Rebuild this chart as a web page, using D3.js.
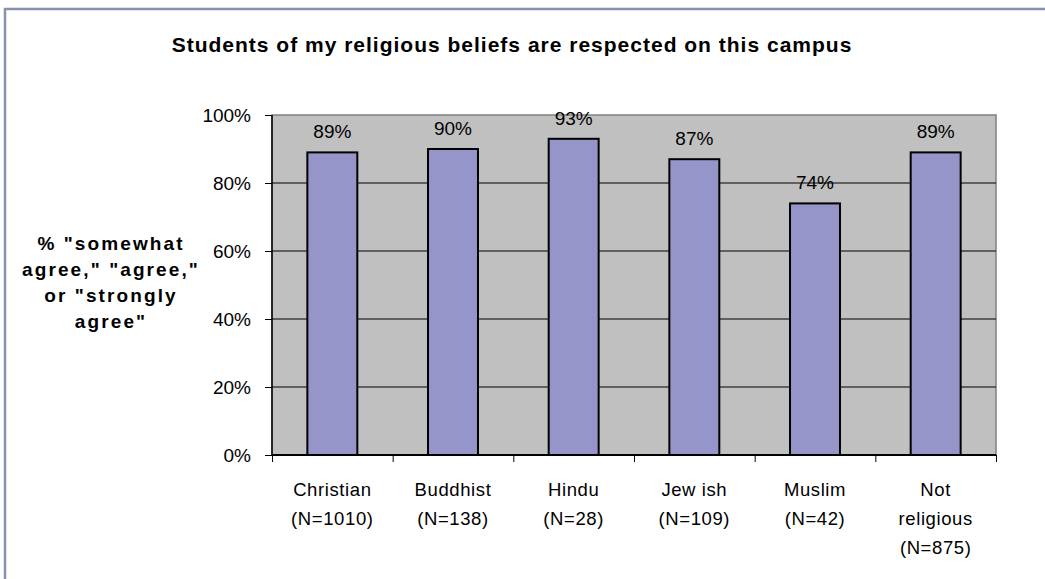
<!DOCTYPE html>
<html>
<head>
<meta charset="utf-8">
<script src="https://cdn.jsdelivr.net/npm/d3@7"></script>
<style>
  body { margin: 0; background: #fff; }
  text { font-family: Arial, "Liberation Sans", sans-serif; }
</style>
</head>
<body>
<script>
// chart data
const categories = ["Christian", "Buddhist", "Hindu", "Jewish", "Muslim", "Not religious"];
const categoryLines = [["Christian", "(N=1010)"], ["Buddhist", "(N=138)"], ["Hindu", "(N=28)"],
                       ["Jew ish", "(N=109)"], ["Muslim", "(N=42)"], ["Not", "religious", "(N=875)"]];
const values = [0.89, 0.90, 0.93, 0.87, 0.74, 0.89];
const yTicks = [0, 0.2, 0.4, 0.6, 0.8, 1.0];
const titleText = "Students of my religious beliefs are respected on this campus";
const yTitleLines = ["% \"somewhat", "agree,\" \"agree,\"", "or \"strongly", "agree\""];

var margin = {top: 115, left: 272},
    width = 724,
    height = 340;

var svg = d3.select("body").append("svg")
  .attr("width", 1045)
  .attr("height", 579);

// outer frame
svg.append("rect")
  .attr("x", 5).attr("y", 9)
  .attr("width", 1060).attr("height", 600)
  .attr("fill", "none")
  .attr("stroke", "#8790b0")
  .attr("stroke-width", 2.5);

svg.append("text")
  .text(titleText)
  .attr("x", 512).attr("y", 52)
  .attr("text-anchor", "middle")
  .attr("font-size", "21px")
  .attr("font-weight", "bold")
  .attr("letter-spacing", "1px")
  .attr("fill", "#000");

var yt = svg.append("text")
  .attr("text-anchor", "middle")
  .attr("font-size", "19px")
  .attr("font-weight", "bold")
  .attr("letter-spacing", "2.1px")
  .attr("fill", "#000");
yTitleLines.forEach(function(l, i){
  yt.append("tspan").attr("x", 111).attr("y", 250 + i * 26).text(l);
});

var g = svg.append("g")
  .attr("transform", "translate(" + margin.left + "," + margin.top + ")");

var xScale = d3.scaleBand().domain(categories).range([0, width])
  .paddingInner(0.586).paddingOuter(0.293);
var yScale = d3.scaleLinear().domain([0, 1]).range([height, 0]);

g.append("rect")
  .attr("width", width).attr("height", height)
  .attr("fill", "#c0c0c0")
  .attr("stroke", "#808080")
  .attr("stroke-width", 1.5);

// gridlines
g.selectAll("line.grid")
  .data(yTicks.filter(function(d){ return d > 0 && d < 1; }))
  .enter().append("line")
  .attr("class", "grid")
  .attr("x1", 0).attr("x2", width)
  .attr("y1", function(d){ return yScale(d); })
  .attr("y2", function(d){ return yScale(d); })
  .attr("stroke", "#000")
  .attr("stroke-width", 1);

g.selectAll("rect.bar")
  .data(values)
  .enter().append("rect")
  .attr("class", "bar")
  .attr("x", function(d, i){ return xScale(categories[i]); })
  .attr("y", function(d){ return yScale(d); })
  .attr("width", xScale.bandwidth())
  .attr("height", function(d){ return height - yScale(d); })
  .attr("fill", "#9595c9")
  .attr("stroke", "#000")
  .attr("stroke-width", 2);

g.selectAll("text.val")
  .data(values)
  .enter().append("text")
  .attr("class", "val")
  .text(function(d){ return Math.round(d * 100) + "%"; })
  .attr("x", function(d, i){ return xScale(categories[i]) + xScale.bandwidth() / 2; })
  .attr("y", function(d){ return yScale(d) - 14; })
  .attr("text-anchor", "middle")
  .attr("font-size", "19px")
  .attr("fill", "#000");

// y axis
var yAxis = d3.axisLeft(yScale).tickValues(yTicks).tickSize(7).tickPadding(14)
  .tickFormat(function(d){ return Math.round(d * 100) + "%"; });
var ya = g.append("g").call(yAxis);
ya.select(".domain").attr("stroke", "#000").attr("stroke-width", 1.5).attr("d", "M0,0V" + height);
ya.selectAll("line").attr("stroke", "#000");
ya.selectAll("text")
  .attr("font-size", "19px")
  .attr("font-family", "Arial, 'Liberation Sans', sans-serif")
  .attr("fill", "#000")
  .attr("dy", "0.36em");

// x axis: ticks between categories
var xb = d3.scaleLinear().domain([0, categories.length]).range([0, width]);
var xa = g.append("g").attr("transform", "translate(0," + height + ")")
  .call(d3.axisBottom(xb).ticks(categories.length).tickSize(7).tickFormat(""));
xa.select(".domain").attr("stroke", "#000").attr("stroke-width", 2).attr("d", "M0,0H" + width);
xa.selectAll("line").attr("stroke", "#000");

var cl = g.selectAll("text.cat")
  .data(categoryLines)
  .enter().append("text")
  .attr("class", "cat")
  .attr("text-anchor", "middle")
  .attr("font-size", "18.5px")
  .attr("letter-spacing", "0.6px")
  .attr("fill", "#000");
cl.each(function(lines, i){
  var t = d3.select(this);
  lines.forEach(function(l, j){
    t.append("tspan")
      .attr("x", xScale(categories[i]) + xScale.bandwidth() / 2)
      .attr("y", height + 41 + j * 29)
      .text(l);
  });
});
</script>
</body>
</html>
